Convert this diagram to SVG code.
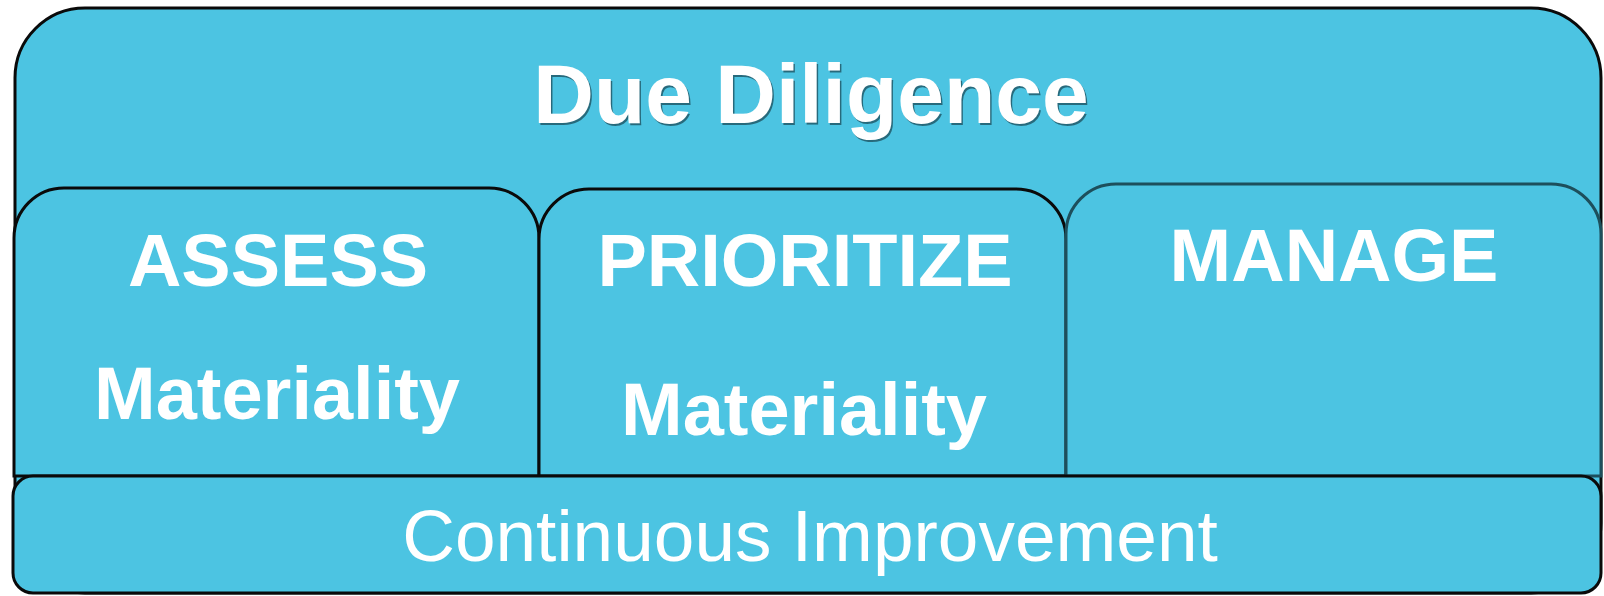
<svg xmlns="http://www.w3.org/2000/svg" width="1604" height="596" viewBox="0 0 1604 596">
<style>
.box{fill:#4cc4e2;stroke:#0a0a0a;stroke-width:3}
.t{font-family:"Liberation Sans",Arial,sans-serif;fill:#ffffff;text-anchor:middle}
.b{font-weight:bold;font-size:74px}
</style>
<rect width="1604" height="596" fill="#ffffff"/>
<g id="due-diligence">
<rect class="box" x="15" y="8" width="1586" height="585" rx="70" ry="70"/>
<text class="t" x="812.5" y="125" font-size="84" font-weight="bold" style="fill:#10303a" opacity="0.6">Due Diligence</text>
<text class="t" x="811" y="123" font-size="84" font-weight="bold">Due Diligence</text>
</g>
<g id="assess">
<path class="box" d="M14,476 V238 A50,50 0 0 1 64,188 H489 A50,50 0 0 1 539,238 V476 Z"/>
<text class="t b" x="278" y="286">ASSESS</text>
<text class="t b" x="277" y="419">Materiality</text>
</g>
<g id="prioritize">
<path class="box" d="M539,476 V239 A50,50 0 0 1 589,189 H1016 A50,50 0 0 1 1066,239 V476 Z"/>
<text class="t b" x="805" y="286">PRIORITIZE</text>
<text class="t b" x="804" y="435">Materiality</text>
</g>
<g id="manage">
<path class="box" d="M1066,476 V234 A50,50 0 0 1 1116,184 H1551 A50,50 0 0 1 1601,234 V476 Z" style="stroke:#1d4f5c"/>
<text class="t b" x="1334" y="281">MANAGE</text>
</g>
<g id="continuous-improvement">
<rect class="box" x="13" y="476" width="1588" height="117" rx="20" ry="20"/>
<text class="t" x="810" y="561" font-size="73">Continuous Improvement</text>
</g>
<g id="connectors"/>
</svg>
